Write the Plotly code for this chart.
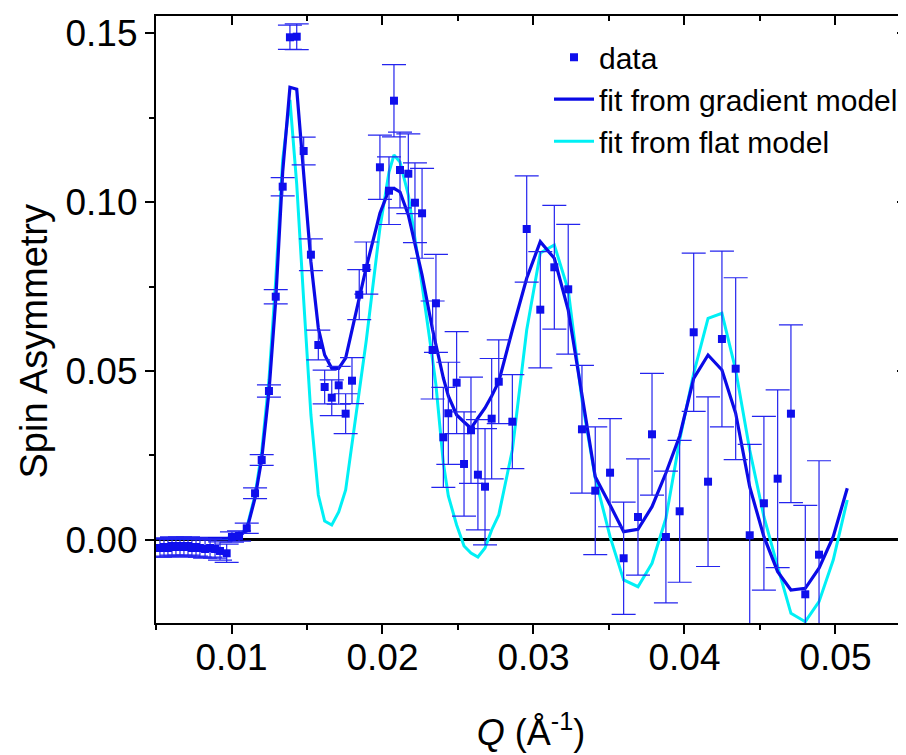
import plotly.graph_objects as go

# ---- measured data ----
q_data = [0.00526, 0.00553, 0.00579, 0.00606, 0.00632, 0.00659, 0.00685, 0.00712, 0.00738,
          0.00765, 0.00791, 0.00825, 0.00858, 0.00891, 0.00924, 0.00968, 0.01003, 0.0105,
          0.01101, 0.01156, 0.0120, 0.01248, 0.01293, 0.01339, 0.01387, 0.01432, 0.01478,
          0.01526, 0.01575, 0.01617, 0.01664, 0.0171, 0.01756, 0.01798, 0.01846, 0.01893,
          0.01983, 0.02043, 0.02076, 0.02116, 0.02171, 0.02215, 0.02262, 0.02332, 0.02354,
          0.02403, 0.02436, 0.02491, 0.0254, 0.02586, 0.02632, 0.02679, 0.02723, 0.0277,
          0.0286, 0.02955, 0.03045, 0.03138, 0.0323, 0.03321, 0.03409, 0.03507, 0.03597,
          0.03692, 0.03785, 0.03877, 0.03968, 0.04061, 0.04156, 0.04248, 0.04339, 0.04432,
          0.04526, 0.04617, 0.04705, 0.048, 0.04891]
asym_data = [-0.00237, -0.00207, -0.00237, -0.00178, -0.00207, -0.00178, -0.00207, -0.00178, -0.00237,
             -0.00207, -0.00237, -0.00266, -0.00237, -0.00266, -0.00325, -0.00393, 0.00089, 0.00118,
             0.00346, 0.01382, 0.02367, 0.04408, 0.07198, 0.10453, 0.14873, 0.14891, 0.11509,
             0.08441, 0.05769, 0.04527, 0.04210, 0.04577, 0.03737, 0.04713, 0.07257, 0.08047,
             0.11027, 0.10334, 0.12997, 0.10947, 0.10837, 0.09979, 0.09666, 0.05621, 0.07003,
             0.03038, 0.03749, 0.04654, 0.02249, 0.03246, 0.01932, 0.01577, 0.03589, 0.04683,
             0.0350, 0.09201, 0.06814, 0.08068, 0.07417, 0.03275, 0.01459, 0.01991, -0.00541,
             0.0068, 0.03127, 0.00089, 0.00849, 0.06145, 0.01725, 0.05947, 0.05068, 0.00139,
             0.01086, 0.01814, 0.03737, -0.01607, -0.00435]
asym_err = [0.0027, 0.0027, 0.0027, 0.0027, 0.0027, 0.0027, 0.0027, 0.0027, 0.0027,
            0.0027, 0.0027, 0.0027, 0.0027, 0.0027, 0.0027, 0.0027, 0.0015, 0.0015,
            0.0015, 0.0016, 0.0016, 0.0018, 0.0021, 0.0027, 0.0036, 0.0038, 0.0041,
            0.0047, 0.0044, 0.0050, 0.0053, 0.0056, 0.0059, 0.0068, 0.0074, 0.0077,
            0.0095, 0.0100, 0.0107, 0.0112, 0.0118, 0.0118, 0.0133, 0.0145, 0.0145,
            0.0148, 0.0151, 0.0151, 0.0154, 0.0157, 0.0163, 0.0172, 0.0178, 0.0124,
            0.0139, 0.0157, 0.0172, 0.0183, 0.0192, 0.0189, 0.0189, 0.0160, 0.0166,
            0.0172, 0.0180, 0.0195, 0.0210, 0.0234, 0.0251, 0.0260, 0.0269, 0.0269,
            0.0257, 0.0263, 0.0263, 0.0263, 0.0278]

# ---- model curves ----
q_fit = [0.00526, 0.0058, 0.0063, 0.0069, 0.0074, 0.0079, 0.0086, 0.0092, 0.00968, 0.01003,
         0.0105, 0.01101, 0.01156, 0.0120, 0.01248, 0.01293, 0.01339, 0.01387, 0.01432, 0.01478,
         0.01526, 0.01575, 0.01617, 0.01664, 0.0171, 0.01756, 0.01798, 0.01846, 0.01893, 0.01983,
         0.02043, 0.02076, 0.02116, 0.02171, 0.02215, 0.02262, 0.02332, 0.02354, 0.02403, 0.02436,
         0.02491, 0.0254, 0.02586, 0.02632, 0.02679, 0.02723, 0.0277, 0.0286, 0.02955, 0.03045,
         0.03138, 0.0323, 0.03321, 0.03409, 0.03507, 0.03597, 0.03692, 0.03785, 0.03877, 0.03968,
         0.04061, 0.04156, 0.04248, 0.04339, 0.04432, 0.04526, 0.04617, 0.04705, 0.048, 0.04891,
         0.04985, 0.05078]
fit_gradient = [0.00044, 0.00044, 0.00044, 0.00044, 0.00044, 0.00044, 0.00044, 0.00044, 0.00044, 0.00059,
                0.00104, 0.00296, 0.01243, 0.02396, 0.04379, 0.07101, 0.10888, 0.13393, 0.13334, 0.10828,
                0.08225, 0.06272, 0.05473, 0.0508, 0.0508, 0.05385, 0.06213, 0.07219, 0.08077, 0.09666,
                0.10355, 0.10405, 0.10296, 0.09615, 0.08728, 0.0784, 0.06213, 0.05769, 0.04793, 0.0426,
                0.03698, 0.03491, 0.03305, 0.03609, 0.03905, 0.0426, 0.04683, 0.06213, 0.07743, 0.08825,
                0.08334, 0.06805, 0.0424, 0.01873, 0.01036, 0.00246, 0.00317, 0.00985, 0.01982, 0.03077,
                0.04784, 0.05473, 0.0503, 0.03749, 0.01568, 0.00098, -0.00938, -0.01479, -0.01429, -0.00837,
                0.00098, 0.0153]
fit_flat = [0.00044, 0.00044, 0.00044, 0.00044, 0.00044, 0.00044, 0.00044, 0.00044, 0.00044, 0.00074,
            0.00133, 0.00355, 0.01331, 0.02604, 0.04734, 0.07692, 0.11243, 0.13018, 0.10518, 0.07101,
            0.03698, 0.01331, 0.00562, 0.00444, 0.00828, 0.01479, 0.02811, 0.04438, 0.05917, 0.09231,
            0.10888, 0.11391, 0.11183, 0.10207, 0.08935, 0.07544, 0.05325, 0.04586, 0.02278, 0.01302,
            0.00444, -0.00178, -0.00385, -0.00503, -0.00237, 0.00296, 0.0074, 0.02663, 0.06213, 0.08491,
            0.08728, 0.07396, 0.04142, 0.01834, 0.00098, -0.01183, -0.01382, -0.00689, 0.00642, 0.02959,
            0.04932, 0.06559, 0.06707, 0.0503, 0.02663, 0.00689, -0.0079, -0.02169, -0.02417, -0.01825,
            -0.00592, 0.01183]

x_tickvals = [0.01, 0.02, 0.03, 0.04, 0.05]
x_ticktext = ["0.01", "0.02", "0.03", "0.04", "0.05"]
y_tickvals = [0.00, 0.05, 0.10, 0.15]
y_ticktext = ["0.00", "0.05", "0.10", "0.15"]

FONT = "Liberation Sans, Arial, sans-serif"

fig = go.Figure()

fig.add_trace(go.Scatter(
    x=q_fit, y=fit_flat, mode="lines", name="fit from flat model",
    line=dict(color="#00f0f5", width=3), legendrank=3))
fig.add_trace(go.Scatter(
    x=q_fit, y=fit_gradient, mode="lines", name="fit from gradient model",
    line=dict(color="#0a0ae6", width=3.2), legendrank=2))
fig.add_trace(go.Scatter(
    x=q_data, y=asym_data, mode="markers", name="data",
    marker=dict(symbol="square", size=8, color="#0f0fec"),
    error_y=dict(type="data", array=asym_err, visible=True, color="#2424ee",
                 thickness=1.2, width=12),
    legendrank=1))

# invisible trace on mirrored axes so top/right inward ticks render
fig.add_trace(go.Scatter(x=q_fit[:1], y=fit_flat[:1], xaxis="x2", yaxis="y2",
                         mode="markers", marker=dict(opacity=0), showlegend=False,
                         hoverinfo="skip"))

x_range = [0.005, 0.05467]
y_range = [-0.02456, 0.15503]

axis_common = dict(showline=True, linecolor="black", linewidth=2.2, showgrid=False,
                   tickcolor="black", tickwidth=2, ticklen=9)

fig.update_layout(
    width=898, height=747,
    margin=dict(l=148, r=0, t=8, b=132),
    plot_bgcolor="white", paper_bgcolor="white",
    font=dict(family=FONT, color="black"),
    xaxis=dict(range=x_range, tickvals=x_tickvals, ticktext=x_ticktext, ticks="outside",
               tickfont=dict(size=37, family=FONT), zeroline=False,
               ticklabelstandoff=-9,
               minor=dict(dtick=0.005, tick0=0.005, ticks="outside", ticklen=5,
                          tickwidth=2, tickcolor="black"),
               title=dict(text="<i>Q</i> (Å<sup>-1</sup>)", font=dict(size=36, family=FONT),
                          standoff=43),
               **axis_common),
    yaxis=dict(range=y_range, tickvals=y_tickvals, ticktext=y_ticktext, ticks="outside",
               tickfont=dict(size=37, family=FONT),
               zeroline=True, zerolinecolor="black", zerolinewidth=2.5,
               minor=dict(dtick=0.025, tick0=0, ticks="outside", ticklen=5,
                          tickwidth=2, tickcolor="black"),
               **axis_common),
    xaxis2=dict(range=x_range, overlaying="x", side="top", anchor="y2", tickvals=x_tickvals,
                ticks="inside", showticklabels=False, zeroline=False,
                minor=dict(dtick=0.005, tick0=0.005, ticks="inside", ticklen=5,
                           tickwidth=2, tickcolor="black"),
                **axis_common),
    yaxis2=dict(range=y_range, overlaying="y", side="right", anchor="x2", tickvals=y_tickvals,
                ticks="inside", showticklabels=False, zeroline=False,
                minor=dict(dtick=0.025, tick0=0, ticks="inside", ticklen=5,
                           tickwidth=2, tickcolor="black"),
                **axis_common),
    legend=dict(x=0.524, y=0.975, xanchor="left", yanchor="top",
                bgcolor="rgba(0,0,0,0)", font=dict(size=30, family=FONT),
                itemwidth=40, tracegroupgap=0),
    showlegend=True,
    annotations=[dict(text="Spin Asymmetry", textangle=-90, xref="paper", yref="paper",
                      x=-0.163, y=0.465, xanchor="center", yanchor="middle",
                      showarrow=False, font=dict(size=38, family=FONT, color="black"))],
)

fig.write_html("out.html")
